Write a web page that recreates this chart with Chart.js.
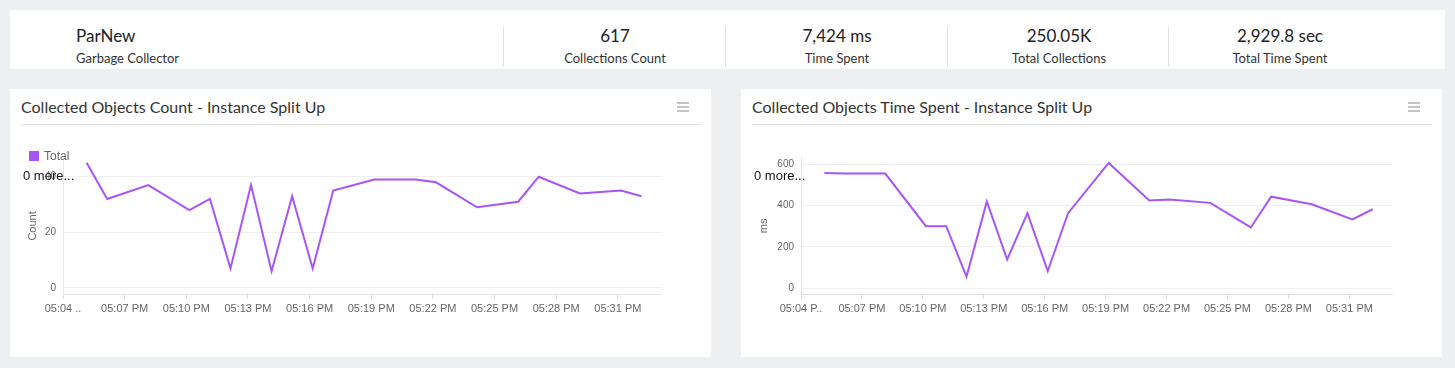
<!DOCTYPE html>
<html>
<head>
<meta charset="utf-8">
<script src="https://cdn.jsdelivr.net/npm/chart.js@4.4.1/dist/chart.umd.min.js"></script>
<style>
  body { margin: 0; width: 1455px; height: 368px; background: #eeeff1; font-family: Lato, "Open Sans", sans-serif; overflow: hidden; position: relative; }
  .summary { position: absolute; left: 10px; top: 10px; width: 1435px; height: 59px; background: #fff; }
  .main { position: absolute; left: 66px; top: 15px; }
  .main .big { font-size: 17px; color: #222; }
  .main .small { font-size: 13px; color: #333; margin-top: 4px; }
  .col { position: absolute; top: 17px; height: 40px; width: 222px; border-left: 1px solid #e2e2e2; text-align: center; }
  .col .big { font-size: 17px; color: #222; margin-top: -2px; }
  .col .small { font-size: 13px; color: #333; margin-top: 4px; }
  .card { position: absolute; top: 89px; width: 701px; height: 268px; background: #fff; }
  .card .title { position: absolute; left: 11px; top: 8px; font-size: 16px; color: #333; }
  .card .rule { position: absolute; left: 11px; top: 35px; width: 680px; height: 1px; background: #e0e0e0; }
  .card .menu { position: absolute; left: 667px; top: 13px; width: 12px; }
  .card .menu div { height: 2px; background: #c4c4c4; margin-bottom: 2px; }
  .card canvas { position: absolute; left: 0; top: 41px; }
  .legend { position: absolute; left: 19px; top: 60px; font: 12px "Liberation Sans", Arial, sans-serif; color: #666; }
  .legend span { display: inline-block; width: 10px; height: 10px; background: #a855f7; margin-right: 5px; vertical-align: -1px; }
  .more { position: absolute; left: 13px; top: 79px; font: 13px "Liberation Sans", Arial, sans-serif; color: #111; }
</style>
</head>
<body>
<div class="summary">
  <div class="main"><div class="big">ParNew</div><div class="small">Garbage Collector</div></div>
  <div class="col" style="left:493px"><div class="big">617</div><div class="small">Collections Count</div></div>
  <div class="col" style="left:715px"><div class="big">7,424 ms</div><div class="small">Time Spent</div></div>
  <div class="col" style="left:937px"><div class="big">250.05K</div><div class="small">Total Collections</div></div>
  <div class="col" style="left:1158px"><div class="big">2,929.8 sec</div><div class="small">Total Time Spent</div></div>
</div>

<div class="card" style="left:10px">
  <div class="title">Collected Objects Count - Instance Split Up</div>
  <div class="menu"><div></div><div></div><div></div></div>
  <div class="rule"></div>
  <canvas id="countChart" width="701" height="227"></canvas>
  <div class="legend"><span></span>Total</div>
  <div class="more">0 more...</div>
</div>

<div class="card" style="left:741px">
  <div class="title">Collected Objects Time Spent - Instance Split Up</div>
  <div class="menu"><div></div><div></div><div></div></div>
  <div class="rule"></div>
  <canvas id="timeChart" width="701" height="227"></canvas>
  <div class="more">0 more...</div>
</div>

<script>
// sample times (both charts share them)
var axisStart = '17:04:00';
var sampleTimes = ['17:05:09', '17:06:09', '17:08:09', '17:10:09', '17:11:09', '17:12:09', '17:13:09',
  '17:14:09', '17:15:09', '17:16:09', '17:17:09', '17:19:09', '17:21:09', '17:22:09', '17:24:09',
  '17:26:09', '17:27:09', '17:29:09', '17:31:09', '17:32:09'];

var countValues = [45, 32, 37, 28, 32, 7, 37, 6, 33, 7, 35, 39, 39, 38, 29, 31, 40, 34, 35, 33];
var timeValues = [557, 555, 555, 300, 300, 56, 420, 139, 363, 83, 363, 606, 425, 429, 413, 294, 443, 406, 333, 382];

var countTickLabels = ['05:04 ..', '05:07 PM', '05:10 PM', '05:13 PM', '05:16 PM', '05:19 PM', '05:22 PM', '05:25 PM', '05:28 PM', '05:31 PM'];
var timeTickLabels = ['05:04 P..', '05:07 PM', '05:10 PM', '05:13 PM', '05:16 PM', '05:19 PM', '05:22 PM', '05:25 PM', '05:28 PM', '05:31 PM'];

function toMinutes(t) {
  var p = t.split(':'), s = axisStart.split(':');
  return (p[0] - s[0]) * 60 + (p[1] - s[1]) + (p[2] - s[2]) / 60;
}

function makeChart(id, values, tickLabels, yTitle, yMin, yMax, yStep, yWidth) {
  var pts = [];
  for (var i = 0; i < sampleTimes.length; i++) {
    pts.push({x: toMinutes(sampleTimes[i]), y: values[i]});
  }
  var ctx = document.getElementById(id).getContext('2d');
  return new Chart(ctx, {
    type: 'line',
    data: {
      datasets: [{
        label: 'Total',
        data: pts,
        borderColor: '#a855f7',
        backgroundColor: '#a855f7',
        borderWidth: 2,
        pointRadius: 0,
        tension: 0
      }]
    },
    options: {
      responsive: false,
      animation: false,
      layout: {padding: {left: 12, right: 50, top: 27, bottom: 37}},
      plugins: {legend: {display: false}, tooltip: {enabled: false}},
      scales: {
        x: {
          type: 'linear',
          min: 0,
          max: 29.1,
          grid: {drawOnChartArea: false, drawTicks: true, tickLength: 4, color: '#dcdcdc'},
          border: {color: '#e4e4e4'},
          ticks: {
            stepSize: 3,
            includeBounds: false,
            autoSkip: false,
            maxRotation: 0,
            padding: 4,
            color: '#666',
            font: {family: 'Liberation Sans', size: 11},
            callback: function(v, idx) { return tickLabels[idx]; }
          }
        },
        y: {
          min: yMin,
          max: yMax,
          afterFit: function(scale) { scale.width = yWidth; },
          grid: {drawTicks: false, color: '#efefef'},
          border: {color: '#e4e4e4'},
          title: {display: true, text: yTitle, color: '#666', font: {family: 'Liberation Sans', size: 11}},
          ticks: {
            stepSize: yStep,
            includeBounds: false,
            padding: 7,
            color: '#666',
            font: {family: 'Liberation Sans', size: 10}
          }
        }
      }
    }
  });
}

makeChart('countChart', countValues, countTickLabels, 'Count', -2.5, 47.1, 20, 41);
makeChart('timeChart', timeValues, timeTickLabels, 'ms', -32, 635, 200, 48);
</script>
</body>
</html>
